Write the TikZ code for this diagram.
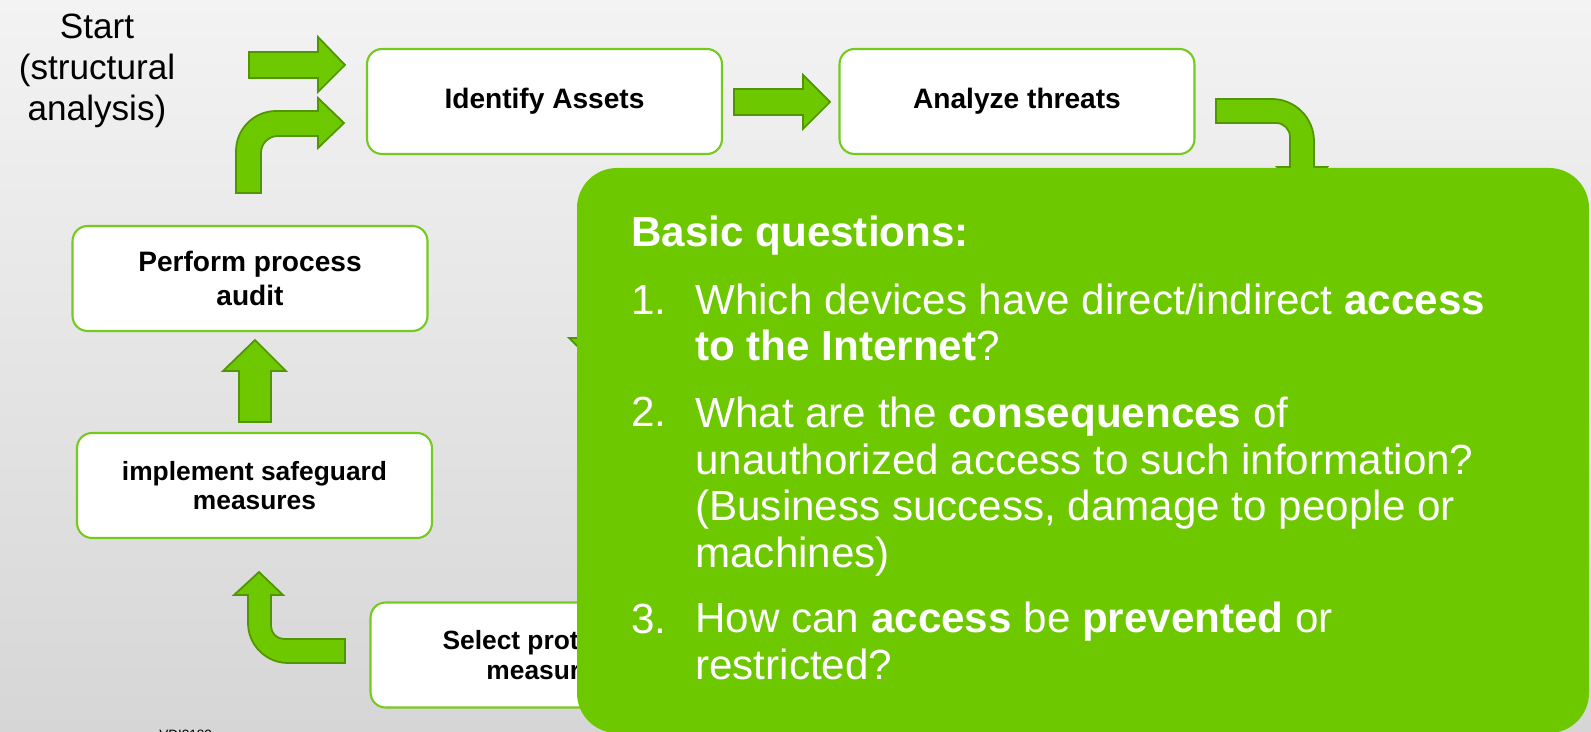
\documentclass[tikz,border=0pt]{standalone}
\usepackage{fontspec}
\setmainfont{Liberation Sans}

\definecolor{vdigreen}{RGB}{110,200,0}
\definecolor{arrowedge}{RGB}{80,150,0}
\definecolor{boxedge}{RGB}{118,202,30}
\definecolor{bgtop}{RGB}{243,243,243}
\definecolor{bgbottom}{RGB}{214,214,214}

\newcommand{\qfont}{\fontsize{24}{26.4}\selectfont}

\begin{document}
\begin{tikzpicture}[x=0.02cm, y=-0.02cm,
	task/.style={draw=boxedge, line width=1.2pt, fill=white, rounded corners=0.3cm,
		minimum width=7.1cm, minimum height=2.1cm, align=center,
		font=\bfseries\fontsize{16}{19.8}\selectfont},
	smalltask/.style={task, font=\bfseries\fontsize{15}{16.6}\selectfont},
	blockarrow/.style={fill=vdigreen, draw=arrowedge, line width=1pt, line join=miter},
	qtext/.style={anchor=base west, inner sep=0pt, text=white, align=left, font=\qfont}]
	\useasboundingbox (0,0) rectangle (1591,732);
	\shade[top color=bgtop, bottom color=bgbottom] (0,0) rectangle (1591,732);
	
	\node[align=center, inner sep=0pt, font=\fontsize{20}{23.2}\selectfont] (start) at (97,71) {Start\\(structural\\analysis)};
	\node[anchor=base west, inner sep=0pt, font=\fontsize{7.7}{9}\selectfont] (src) at (159,739) {VDI2182};
	
	\node[task] (assets) at (544.5,101.5) {Identify Assets};
	\node[task] (threats) at (1017,101.5) {Analyze threats};
	\node[task] (audit) at (250,278.5) {Perform process\\audit};
	\node[smalltask] (implement) at (254.5,485.5) {implement safeguard\\measures};
	\node[smalltask] (select) at (548,655) {Select protective\\measures};
	
	% block arrows of the cycle
	\draw[blockarrow] (249,52) -- (318,52) -- (318,37) -- (345,65) -- (318,92) -- (318,78) -- (249,78) -- cycle;
	\draw[blockarrow] (236,193) -- (236,151) .. controls (236,129) and (254,111) .. (276,111)
		-- (318,111) -- (318,98) -- (344,123) -- (318,148) -- (318,136) -- (278,136)
		.. controls (268.6,136) and (261,143.4) .. (261,153) -- (261,193) -- cycle;
	\draw[blockarrow] (734,89) -- (803,89) -- (803,75) -- (830,102) -- (803,129) -- (803,115) -- (734,115) -- cycle;
	\draw[blockarrow] (1216,99) -- (1272,99) .. controls (1295,99) and (1314,118) .. (1314,141)
		-- (1314,167) -- (1327,167) -- (1302,192) -- (1277,167) -- (1290,167) -- (1290,137)
		.. controls (1290,129.3) and (1283.7,123) .. (1276,123) -- (1216,123) -- cycle;
	\draw[blockarrow] (582,300) -- (582,338) -- (569,338) -- (594,363) -- (619,338) -- (606,338) -- (606,300) -- cycle;
	\draw[blockarrow] (345,663) -- (288,663) .. controls (266,663) and (248,645) .. (248,623)
		-- (248,595) -- (234,595) -- (259,572) -- (283,595) -- (271,595) -- (271,626)
		.. controls (271,633.2) and (276.8,639) .. (284,639) -- (345,639) -- cycle;
	\draw[blockarrow] (239,422) -- (239,371) -- (223,371) -- (255,340) -- (286,371) -- (271,371) -- (271,422) -- cycle;
	
	% question panel on top (multi-line nodes sit on their last baseline)
	\fill[vdigreen, rounded corners=0.8cm] (577,168) rectangle (1589,733);
	\node[qtext, font=\bfseries\qfont] (qhead) at (631,247) {Basic questions:};
	\node[qtext] (n1) at (631,315) {1.};
	\node[qtext] (q1) at (695,361) {Which devices have direct/indirect \textbf{access}\\\textbf{to the Internet}?};
	\node[qtext] (n2) at (631,427) {2.};
	\node[qtext] (q2) at (695,567) {What are the \textbf{consequences} of\\unauthorized access to such information?\\(Business success, damage to people or\\machines)};
	\node[qtext] (n3) at (631,633) {3.};
	\node[qtext] (q3) at (695,679) {How can \textbf{access} be \textbf{prevented} or\\restricted?};
\end{tikzpicture}
\end{document}
